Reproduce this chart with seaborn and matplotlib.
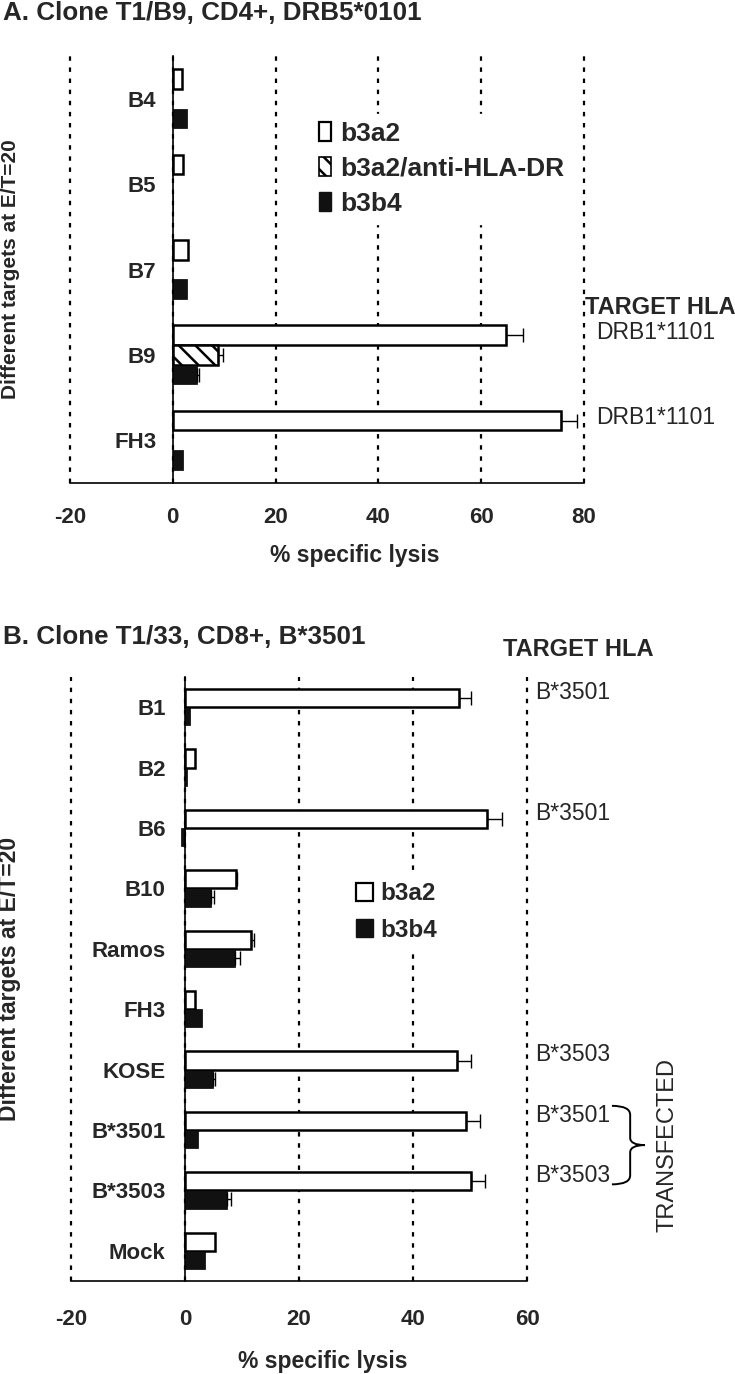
import numpy as np
import pandas as pd
import matplotlib
matplotlib.use("Agg")
import matplotlib.pyplot as plt
from matplotlib.patches import Patch, PathPatch
from matplotlib.path import Path
import seaborn as sns

# Panel A: clone T1/B9, lysis of targets (b3a2 / b3a2 + anti-HLA-DR / b3b4)
targetsA = ["B4", "B5", "B7", "B9", "FH3"]
b3a2A = [1.7, 2.0, 2.9, 64.9, 75.5]
b3a2A_err = [0, 0, 0, 3.3, 3.2]
antiDRA = [np.nan, np.nan, np.nan, 8.8, np.nan]
antiDRA_err = [0, 0, 0, 1.0, 0]
b3b4A = [2.7, 0.0, 2.7, 4.7, 1.9]
b3b4A_err = [0, 0, 0, 0.4, 0]
hlaA = {"B9": "DRB1*1101", "FH3": "DRB1*1101"}

# Panel B: clone T1/33
targetsB = ["B1", "B2", "B6", "B10", "Ramos", "FH3", "KOSE", "B*3501", "B*3503", "Mock"]
b3a2B = [48.0, 1.8, 53.0, 8.9, 11.6, 1.8, 47.7, 49.3, 50.2, 5.3]
b3a2B_err = [2.2, 0, 2.6, 0.3, 0.5, 0, 2.4, 2.4, 2.5, 0]
b3b4B = [0.9, 0.3, -0.7, 4.6, 8.8, 3.0, 4.9, 2.3, 7.4, 3.5]
b3b4B_err = [0, 0, 0, 0.5, 0.8, 0, 0.3, 0, 0.7, 0]
hlaB = {"B1": "B*3501", "B6": "B*3501", "KOSE": "B*3503",
        "B*3501": "B*3501", "B*3503": "B*3503"}

condsA = ["b3a2", "b3a2/anti-HLA-DR", "b3b4"]
condsB = ["b3a2", "b3b4"]
colors = {"b3a2": "white", "b3a2/anti-HLA-DR": "white", "b3b4": "#111111"}


def long_table(targets, series):
    rows = []
    for name, (vals, errs) in series.items():
        for t, v, e in zip(targets, vals, errs):
            if not np.isnan(v):
                rows.append({"target": t, "cond": name, "lysis": v, "err": e})
    return pd.DataFrame(rows)


def draw_panel(ax, df, targets, conds, width, xlim, ytick_pad, xtick_pad):
    sns.barplot(data=df, x="lysis", y="target", hue="cond", order=targets,
                hue_order=conds, palette=colors, orient="h", width=width,
                saturation=1, errorbar=None, edgecolor="black", linewidth=1.8,
                legend=False, ax=ax)
    errs = {(r.target, r.cond): r.err for r in df.itertuples()}
    centers = {}
    for cont, cond in zip(ax.containers, conds):
        for p in cont:
            yc = p.get_y() + p.get_height() / 2
            t = targets[int(round(yc))]
            centers[(t, cond)] = yc
            if cond == "b3a2/anti-HLA-DR":
                p.set_hatch("\\\\")
            if cond == "b3b4":
                p.set_linewidth(0.5)
            e = errs.get((t, cond), 0)
            if e > 0:
                ax.errorbar(p.get_width(), yc, xerr=[[0], [e]], fmt="none",
                            ecolor="black", elinewidth=1, capsize=5, capthick=1,
                            zorder=3)

    ax.set_xlim(xlim)
    ax.set_xticks(np.arange(xlim[0], xlim[1] + 1, 20))
    ax.set_ylim(len(targets) - 0.5, -0.5)
    ax.spines[["top", "right"]].set_visible(False)
    ax.spines["left"].set_position(("data", 0))
    for s in ["left", "bottom"]:
        ax.spines[s].set_linewidth(1.2)
        ax.spines[s].set_color("black")
    ax.set_yticks(np.arange(len(targets)))
    ax.set_yticklabels(targets, fontweight="bold", fontsize=16)
    ax.set_yticks(np.arange(len(targets) + 1) - 0.5, minor=True)
    ax.tick_params(axis="y", which="major", length=0, pad=ytick_pad)
    ax.tick_params(axis="y", which="minor", length=7, width=1.2, direction="out",
                   color="black")
    ax.tick_params(axis="x", length=6, width=1.2, direction="out", labelsize=16,
                   pad=xtick_pad, color="black")
    for lab in ax.get_xticklabels():
        lab.set_fontweight("bold")
    ax.xaxis.grid(True, linestyle=(0, (2, 3)), color="black", linewidth=1.6)
    for gl in ax.get_xgridlines():
        gl.set_clip_on(False)
    ax.yaxis.grid(False)
    ax.set_axisbelow(True)
    ax.set_xlabel("% specific lysis", fontweight="bold", fontsize=16.5)
    ax.xaxis.label.set_va("center")
    ax.set_ylabel("Different targets at E/T=20", fontweight="bold")
    ax.yaxis.label.set_va("center")
    return centers


def legend_handles(conds):
    hs = []
    for c in conds:
        if c == "b3b4":
            hs.append(Patch(facecolor="#111111", edgecolor="#111111"))
        elif c == "b3a2":
            hs.append(Patch(facecolor="white", edgecolor="black", lw=1.6))
        else:
            hs.append(Patch(facecolor="white", edgecolor="black", lw=1.2, hatch="\\\\"))
    return hs


sns.set_style("white")
plt.rcParams["font.family"] = ["Liberation Sans", "DejaVu Sans"]
plt.rcParams["axes.unicode_minus"] = False
plt.rcParams["hatch.linewidth"] = 1.8

W, H = 735, 1374
fig = plt.figure(figsize=(W / 100, H / 100), dpi=100)

# ---------------- panel A
axA = fig.add_axes([70 / W, 1 - 483 / H, 514 / W, 427 / H])
dfA = long_table(targetsA, {"b3a2": (b3a2A, b3a2A_err),
                            "b3a2/anti-HLA-DR": (antiDRA, antiDRA_err),
                            "b3b4": (b3b4A, b3b4A_err)})
cA = draw_panel(axA, dfA, targetsA, condsA, 0.69, (-20, 80), 12, 11)
axA.xaxis.set_label_coords(0.554, -0.169)
axA.yaxis.set_label_coords(-0.115, 0.5)
axA.yaxis.label.set_fontsize(15)
axA.legend(legend_handles(condsA), condsA, loc="upper left",
           bbox_to_anchor=(0.47, 0.865), frameon=True, facecolor="white",
           edgecolor="white", framealpha=1, fancybox=False,
           prop=dict(weight="bold", size=19), handlelength=0.45,
           handleheight=0.7, handletextpad=0.35, labelspacing=0.42,
           borderpad=0.3, borderaxespad=0)
axA.text(80.2, 2.44, "TARGET HLA", fontweight="bold", fontsize=17,
         ha="left", va="center", clip_on=False)
for t, lab in hlaA.items():
    axA.annotate(lab, xy=(82.3, cA[(t, "b3a2")]), xytext=(0, 2),
                 textcoords="offset points", ha="left", va="center",
                 fontsize=16.5, annotation_clip=False)
fig.text(3 / W, 1 - 13 / H, "A. Clone T1/B9, CD4+, DRB5*0101",
         fontweight="bold", fontsize=18.7, ha="left", va="center")

# ---------------- panel B
axB = fig.add_axes([71 / W, 1 - 1281 / H, 456 / W, 604 / H])
dfB = long_table(targetsB, {"b3a2": (b3a2B, b3a2B_err),
                            "b3b4": (b3b4B, b3b4B_err)})
cB = draw_panel(axB, dfB, targetsB, condsB, 0.6, (-20, 60), 14, 14)
axB.xaxis.set_label_coords(0.553, -0.134)
axB.yaxis.set_label_coords(-0.134, 0.5)
axB.yaxis.label.set_fontsize(16.5)
axB.legend(legend_handles(condsB), condsB, loc="upper left",
           bbox_to_anchor=(0.61, 0.672), frameon=True, facecolor="white",
           edgecolor="white", framealpha=1, fancybox=False,
           prop=dict(weight="bold", size=17.5), handlelength=0.7,
           handleheight=0.75, handletextpad=0.3, labelspacing=0.55,
           borderpad=0.3, borderaxespad=0)
axB.text(0.947, 1.046, "TARGET HLA", transform=axB.transAxes,
         fontweight="bold", fontsize=17, ha="left", va="center")
for t, lab in hlaB.items():
    axB.annotate(lab, xy=(61.4, cB[(t, "b3a2")]), xytext=(0, 4),
                 textcoords="offset points", ha="left", va="center",
                 fontsize=16.5, annotation_clip=False)

# brace grouping the two transfected lines
i1, i2 = targetsB.index("B*3501"), targetsB.index("B*3503")
top, bot = i1 - 0.4, i2 - 0.1
mid = (top + bot) / 2
x0, xm, x1 = 74.9, 78.1, 80.7
verts = [(x0, top), (xm, top), (xm, top + 0.15), (xm, mid - 0.12),
         (xm, mid), (x1, mid), (xm, mid), (xm, mid + 0.12),
         (xm, bot - 0.15), (xm, bot), (x0, bot)]
codes = [Path.MOVETO, Path.CURVE3, Path.CURVE3, Path.LINETO,
         Path.CURVE3, Path.CURVE3, Path.CURVE3, Path.CURVE3,
         Path.LINETO, Path.CURVE3, Path.CURVE3]
axB.add_patch(PathPatch(Path(verts, codes), fill=False, lw=1.4,
                        edgecolor="black", clip_on=False))
axB.text(84.7, mid, "TRANSFECTED", rotation=90, fontsize=17,
         ha="center", va="center", clip_on=False)
fig.text(3 / W, 1 - 637 / H, "B. Clone T1/33, CD8+, B*3501",
         fontweight="bold", fontsize=18.7, ha="left", va="center")

fig.savefig("out.png", dpi=100)
